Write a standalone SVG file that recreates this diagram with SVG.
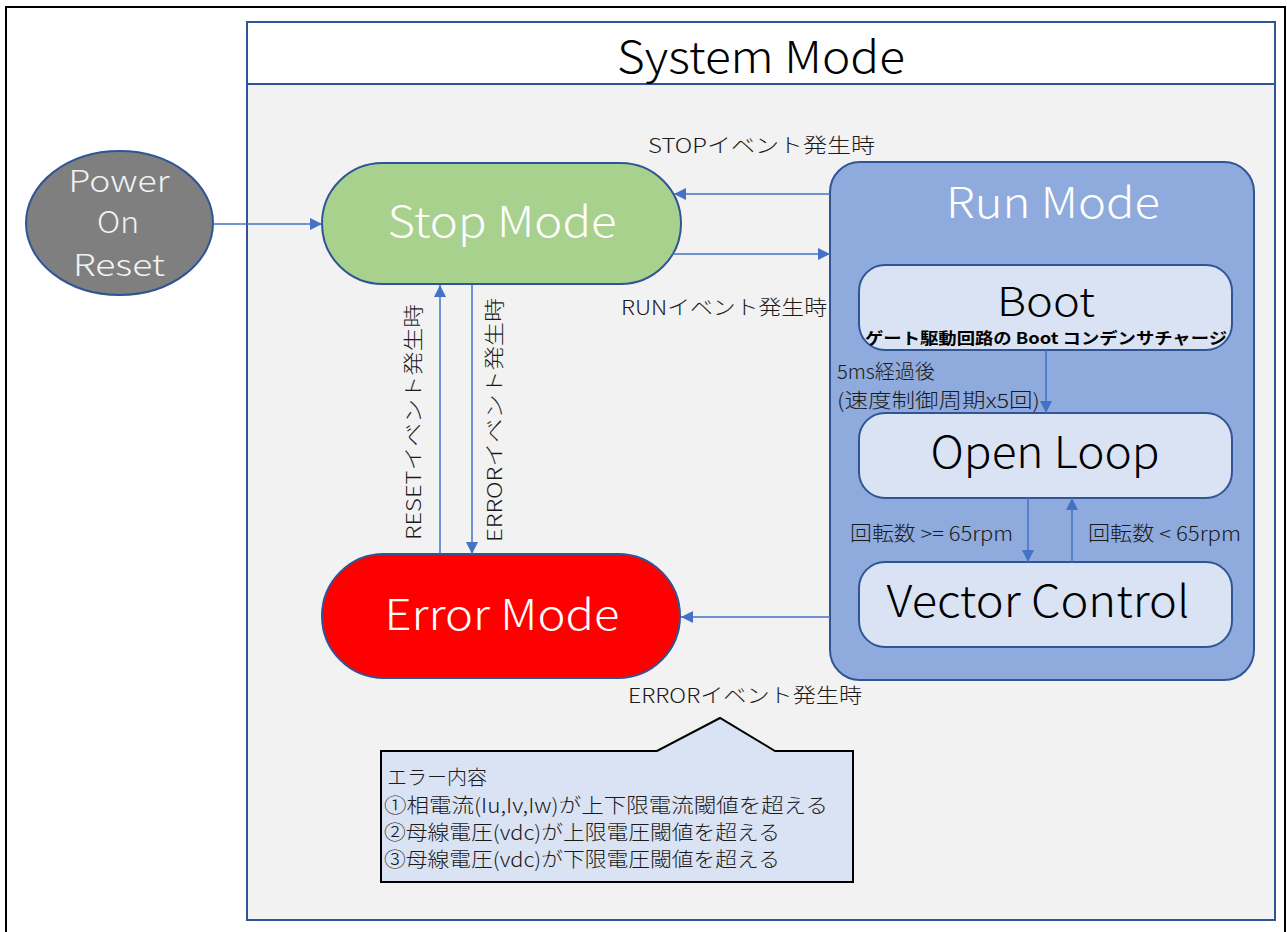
<svg xmlns="http://www.w3.org/2000/svg" width="1287" height="932" viewBox="0 0 1287 932">
<defs>
<style>
.t{font-family:"Noto Sans CJK JP","Noto Sans",sans-serif;}
.big{font-size:42px;font-weight:300;}
.lbl{font-size:20px;fill:#1a1a1a;font-weight:300;}
.wt{fill:#ffffff;}
.node{stroke:#2f5597;stroke-width:2;}
.con{stroke:#4472c4;stroke-width:1.5;fill:none;marker-end:url(#ah);}
</style>
<marker id="ah" viewBox="0 0 10 10" refX="10" refY="5" markerWidth="13" markerHeight="12" markerUnits="userSpaceOnUse" orient="auto">
<path d="M0,0 L10,5 L0,10 z" fill="#4472c4"/>
</marker>
</defs>
<rect x="0" y="0" width="1287" height="932" fill="#ffffff"/>
<rect x="6" y="7" width="1279" height="940" fill="none" stroke="#000" stroke-width="2"/>

<g id="system-mode">
<rect x="247" y="22" width="1028" height="898" fill="#f2f2f2" class="node"/>
<rect x="247" y="22" width="1028" height="62" fill="#ffffff" class="node"/>
<text class="t" x="761" y="73" font-size="44" font-weight="300" text-anchor="middle" fill="#000" textLength="288" lengthAdjust="spacingAndGlyphs">System Mode</text>
</g>

<g id="power-on-reset">
<ellipse cx="119.5" cy="223" rx="93.5" ry="72" fill="#7f7f7f" class="node"/>
<text class="t" font-size="30" font-weight="300" text-anchor="middle" x="119" y="192" textLength="101" lengthAdjust="spacingAndGlyphs" fill="#f2f2f2">Power</text>
<text class="t" font-size="30" font-weight="300" text-anchor="middle" x="118" y="233" textLength="42" lengthAdjust="spacingAndGlyphs" fill="#f2f2f2">On</text>
<text class="t" font-size="30" font-weight="300" text-anchor="middle" x="119" y="276" textLength="92" lengthAdjust="spacingAndGlyphs" fill="#f2f2f2">Reset</text>
</g>

<g id="stop-mode">
<rect x="322" y="163" width="359" height="121" rx="60.5" ry="60.5" fill="#a9d18e" class="node"/>
<text class="t big wt" x="502" y="237" text-anchor="middle" textLength="229" lengthAdjust="spacingAndGlyphs">Stop Mode</text>
</g>

<g id="error-mode">
<rect x="322" y="554" width="358" height="124" rx="62" ry="62" fill="#ff0000" class="node"/>
<text class="t big wt" x="502" y="630" text-anchor="middle" textLength="235" lengthAdjust="spacingAndGlyphs">Error Mode</text>
</g>

<g id="run-mode">
<rect x="830" y="162" width="424" height="518" rx="30" ry="30" fill="#8faadc" class="node"/>
<text class="t big wt" x="1053" y="218" text-anchor="middle" textLength="214" lengthAdjust="spacingAndGlyphs">Run Mode</text>
</g>

<g id="boot">
<rect x="859" y="265" width="373" height="85" rx="26" ry="26" fill="#dae3f3" class="node"/>
<text class="t" x="1046" y="316" font-size="40" font-weight="300" text-anchor="middle" fill="#000" textLength="98" lengthAdjust="spacingAndGlyphs">Boot</text>
<text class="t" x="1046" y="344" font-size="16" font-weight="bold" text-anchor="middle" fill="#000" textLength="362" lengthAdjust="spacingAndGlyphs">ゲート駆動回路の Boot コンデンサチャージ</text>
</g>

<g id="open-loop">
<rect x="859" y="413" width="373" height="85" rx="26" ry="26" fill="#dae3f3" class="node"/>
<text class="t" x="1045" y="468" font-size="44" font-weight="300" text-anchor="middle" fill="#000" textLength="229" lengthAdjust="spacingAndGlyphs">Open Loop</text>
</g>

<g id="vector-control">
<rect x="859" y="562" width="373" height="85" rx="26" ry="26" fill="#dae3f3" class="node"/>
<text class="t" x="1038" y="617" font-size="44" font-weight="300" text-anchor="middle" fill="#000" textLength="303" lengthAdjust="spacingAndGlyphs">Vector Control</text>
</g>

<g id="connectors">
<line class="con" x1="213" y1="224" x2="322" y2="224"/>
<line class="con" x1="830" y1="194" x2="674" y2="194"/>
<line class="con" x1="672" y1="254" x2="830" y2="254"/>
<line class="con" x1="440" y1="554" x2="440" y2="285"/>
<line class="con" x1="472" y1="285" x2="472" y2="554"/>
<line class="con" x1="830" y1="617" x2="681" y2="617"/>
<line class="con" x1="1046" y1="350" x2="1046" y2="413"/>
<line class="con" x1="1028" y1="498" x2="1028" y2="562"/>
<line class="con" x1="1072" y1="562" x2="1072" y2="498"/>
</g>

<g id="labels">
<text class="t lbl" x="648" y="153" textLength="227" lengthAdjust="spacingAndGlyphs">STOPイベント発生時</text>
<text class="t lbl" x="621" y="315" textLength="206" lengthAdjust="spacingAndGlyphs">RUNイベント発生時</text>
<text class="t lbl" transform="translate(421,422) rotate(-90)" text-anchor="middle" textLength="236" lengthAdjust="spacingAndGlyphs">RESETイベント発生時</text>
<text class="t lbl" transform="translate(502,420) rotate(-90)" text-anchor="middle" textLength="244" lengthAdjust="spacingAndGlyphs">ERRORイベント発生時</text>
<text class="t lbl" x="628" y="703" textLength="234" lengthAdjust="spacingAndGlyphs">ERRORイベント発生時</text>
<text class="t lbl" x="837" y="379" font-size="19">5ms経過後</text>
<text class="t lbl" x="837" y="408" font-size="19" textLength="203" lengthAdjust="spacingAndGlyphs">(速度制御周期x5回)</text>
<text class="t lbl" x="850" y="541" font-size="19" textLength="163" lengthAdjust="spacingAndGlyphs">回転数 &gt;= 65rpm</text>
<text class="t lbl" x="1088" y="541" font-size="19" textLength="153" lengthAdjust="spacingAndGlyphs">回転数 &lt; 65rpm</text>
</g>

<g id="error-callout">
<path d="M381,751 L657,751 L720,718 L775,751 L853,751 L853,882 L381,882 Z" fill="#dae3f3" stroke="#000" stroke-width="2"/>
<text class="t lbl" x="387" y="785">エラー内容</text>
<text class="t lbl" x="384" y="813" textLength="444" lengthAdjust="spacingAndGlyphs">①相電流(Iu,Iv,Iw)が上下限電流閾値を超える</text>
<text class="t lbl" x="384" y="840" textLength="396" lengthAdjust="spacingAndGlyphs">②母線電圧(vdc)が上限電圧閾値を超える</text>
<text class="t lbl" x="384" y="867" textLength="396" lengthAdjust="spacingAndGlyphs">③母線電圧(vdc)が下限電圧閾値を超える</text>
</g>
</svg>
